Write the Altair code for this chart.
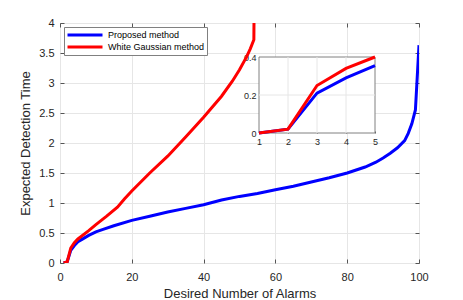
import altair as alt
import pandas as pd

FONT = "Liberation Sans"

series = ["Proposed method", "White Gaussian method"]
colors = ["#0000ff", "#ff0000"]

blue_x = [1, 2, 3, 4, 5, 6, 8, 10, 12, 15, 20, 25, 30, 35, 40, 45, 50, 55, 60, 65,
          70, 75, 80, 85, 88, 90, 92, 94, 96, 97, 98, 99, 100]
blue_y = [0, 0.02, 0.21, 0.29, 0.355, 0.39, 0.46, 0.52, 0.56, 0.62, 0.71, 0.78, 0.85,
          0.91, 0.97, 1.05, 1.11, 1.16, 1.22, 1.28, 1.35, 1.42, 1.5, 1.6, 1.68, 1.75,
          1.83, 1.92, 2.04, 2.16, 2.32, 2.55, 3.63]

red_x = [1, 2, 3, 4, 5, 8, 10, 13, 16, 18, 20, 25, 30, 35, 40, 45, 48, 50, 52, 53, 54, 55]
red_y = [0, 0.02, 0.25, 0.34, 0.40, 0.54, 0.64, 0.78, 0.93, 1.07, 1.2, 1.5, 1.78, 2.1,
         2.43, 2.78, 3.03, 3.22, 3.44, 3.57, 3.72, 12]

x_ticks = [0, 20, 40, 60, 80, 100]
y_ticks = [0, 0.5, 1, 1.5, 2, 2.5, 3, 3.5, 4]
x_domain = [0, 100]
y_domain = [0, 4]

inset_x_domain = [1, 5]
inset_y_domain = [0, 0.4]
inset_x_ticks = [1, 2, 3, 4, 5]
inset_y_ticks = [0, 0.2, 0.4]
inset_grid_x = [2, 3, 4]
inset_grid_y = [0.2]

W, H = 359, 240
TS = 4
# inset placement inside the plot area (pixels)
IX0, IX1, IY0, IY1 = 199, 315, 110, 34

df = pd.DataFrame({
    "x": blue_x + red_x,
    "y": blue_y + red_y,
    "series": [series[0]] * len(blue_x) + [series[1]] * len(red_x),
})
inset_df = df[(df.x >= inset_x_domain[0]) & (df.x <= inset_x_domain[1])]

xs = alt.Scale(domain=x_domain, nice=False, zero=False)
ys = alt.Scale(domain=y_domain, nice=False, zero=False)
ixs = alt.Scale(domain=inset_x_domain, range=[IX0, IX1], nice=False, zero=False)
iys = alt.Scale(domain=inset_y_domain, range=[IY0, IY1], nice=False, zero=False)

color = alt.Color(
    "series:N",
    scale=alt.Scale(domain=series, range=colors),
    legend=alt.Legend(
        title=None, orient="none", legendX=4, legendY=4, direction="vertical",
        symbolType="stroke", symbolSize=1225, symbolStrokeWidth=3,
        clipHeight=12, labelFontSize=9, labelFont=FONT, labelColor="#000000",
        labelOffset=4, padding=2, rowPadding=0, strokeColor="#808080",
        fillColor="white", symbolOffset=0,
    ),
)

ax_common = dict(labelFont=FONT, titleFont=FONT, labelColor="#262626",
                 titleColor="#262626", titleFontWeight="normal",
                 labelFontSize=11, titleFontSize=13, tickColor="#555555",
                 gridColor="#e6e6e6", domain=False)

main = alt.Chart(df).mark_line(clip=True, strokeWidth=3).encode(
    x=alt.X("x:Q", scale=xs, axis=alt.Axis(
        values=x_ticks, title="Desired Number of Alarms", grid=True,
        tickSize=TS, offset=-TS, labelPadding=8, labelFlush=False,
        titlePadding=5, **ax_common)),
    y=alt.Y("y:Q", scale=ys, axis=alt.Axis(
        values=y_ticks, format="~g", title="Expected Detection Time", grid=True,
        tickSize=TS, offset=-TS, labelPadding=6, titlePadding=6, **ax_common)),
    color=color,
    order="x:Q",
)

frame_ticks = alt.Chart(df).mark_point(opacity=0).encode(
    x=alt.X("x:Q", scale=xs, axis=alt.Axis(
        orient="top", values=x_ticks, labels=False, title=None, grid=False,
        tickSize=TS, offset=-TS, domain=False, tickColor="#555555")),
    y=alt.Y("y:Q", scale=ys, axis=alt.Axis(
        orient="right", values=y_ticks, labels=False, title=None, grid=False,
        tickSize=TS, offset=-TS, domain=False, tickColor="#555555")),
)

box_df = pd.DataFrame({"x0": [inset_x_domain[0]], "x1": [inset_x_domain[1]],
                       "y0": [inset_y_domain[0]], "y1": [inset_y_domain[1]]})
inset_box = alt.Chart(box_df).mark_rect(fill="white", stroke="#808080", strokeWidth=1).encode(
    x=alt.X("x0:Q", scale=ixs, axis=None), x2="x1:Q",
    y=alt.Y("y0:Q", scale=iys, axis=None), y2="y1:Q",
)

gx_df = pd.DataFrame({"gx": inset_grid_x, "y0": inset_y_domain[0], "y1": inset_y_domain[1]})
gy_df = pd.DataFrame({"gy": inset_grid_y, "x0": inset_x_domain[0], "x1": inset_x_domain[1]})
inset_gx = alt.Chart(gx_df).mark_rule(color="#e6e6e6", strokeWidth=1).encode(
    x=alt.X("gx:Q", scale=ixs, axis=None),
    y=alt.Y("y0:Q", scale=iys, axis=None), y2="y1:Q",
)
inset_gy = alt.Chart(gy_df).mark_rule(color="#e6e6e6", strokeWidth=1).encode(
    y=alt.Y("gy:Q", scale=iys, axis=None),
    x=alt.X("x0:Q", scale=ixs, axis=None), x2="x1:Q",
)

ITS = 2
inset_ax = dict(labelFont=FONT, labelColor="#262626", labelFontSize=9,
                tickColor="#555555", domain=False, grid=False, title=None,
                tickSize=ITS)
inset_lines = alt.Chart(inset_df).mark_line(strokeWidth=3).encode(
    x=alt.X("x:Q", scale=ixs, axis=alt.Axis(
        orient="bottom", values=inset_x_ticks, offset=(IY0 - H) - ITS,
        labelPadding=4, labelFlush=False, **inset_ax)),
    y=alt.Y("y:Q", scale=iys, axis=alt.Axis(
        orient="left", values=inset_y_ticks, format="~g", offset=-(IX0 + ITS),
        labelPadding=3, **inset_ax)),
    color=color,
    order="x:Q",
)

chart = alt.layer(
    main, frame_ticks, inset_box, inset_gx, inset_gy, inset_lines
).resolve_scale(
    x="independent", y="independent"
).properties(
    width=W, height=H,
    autosize=alt.AutoSizeParams(type="none"),
    padding={"left": 52, "top": 15, "right": 30, "bottom": 36},
).configure_view(
    stroke="#808080", strokeWidth=1
)

chart.save("out.html", embed_options={"renderer": "svg", "actions": False})
